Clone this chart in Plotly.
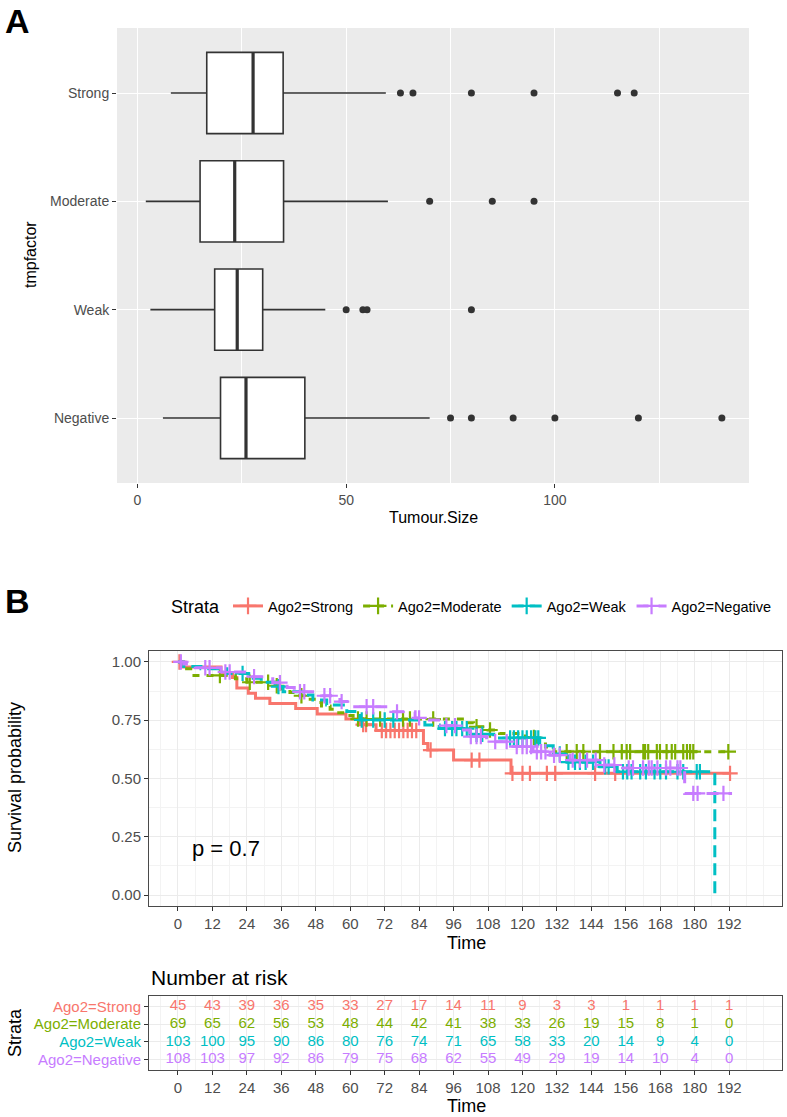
import numpy as np
import plotly.graph_objects as go

# ---------------- Panel A data (box plot of Tumour.Size by tmpfactor) ----------------
box_groups = ["Negative", "Weak", "Moderate", "Strong"]
box_lower = [6.1, 3.1, 2.0, 8.0]
box_q1 = [19.9, 18.5, 15.0, 16.6]
box_median = [26.0, 23.9, 23.3, 27.7]
box_q3 = [40.1, 30.0, 35.0, 34.9]
box_upper = [70.0, 45.0, 60.0, 59.5]
out_negative = [75, 80, 90, 100, 120, 140]
out_weak = [50, 54, 55, 80]
out_moderate = [70, 85, 95]
out_strong = [63, 66, 80, 95, 115, 119]
a_ticks = [0, 50, 100]

# ---------------- Panel B data (Kaplan-Meier curves) ----------------
strata_names = ["Ago2=Strong", "Ago2=Moderate", "Ago2=Weak", "Ago2=Negative"]

strong_time = [0, 1.5, 15, 19, 20.5, 24.5, 27, 32, 41, 48.5, 58.5, 63.5, 69, 85.5, 87, 96, 116, 192]
strong_surv = [1.0, 0.978, 0.955, 0.933, 0.888, 0.866, 0.844, 0.822, 0.800, 0.777, 0.755, 0.731, 0.706,
               0.650, 0.622, 0.579, 0.522, 0.522]
strong_cens = [0.5, 64.5, 65.5, 71, 72.5, 74, 75.5, 77, 78.5, 80, 81.5, 83, 88, 102.3, 105, 116.5, 120,
               122.6, 128.5, 131.4, 145.3, 152.3, 192.3]

mod_time = [0, 3, 5, 20, 24, 34, 35.5, 39, 41, 44, 48, 50, 53, 56, 58.5, 61, 100, 103, 108, 112, 121,
            125, 128, 131, 192]
mod_surv = [1.0, 0.971, 0.942, 0.928, 0.913, 0.898, 0.884, 0.869, 0.855, 0.840, 0.826, 0.811, 0.797,
            0.782, 0.770, 0.755, 0.739, 0.722, 0.708, 0.693, 0.676, 0.655, 0.635, 0.615, 0.615]
mod_cens = [14.6, 25, 31.4, 34.4, 43, 62.7, 65.7, 70.4, 78.4, 80.8, 88.9, 104, 108.7, 124, 135.4, 138.9,
            141.2, 147, 151.7, 154.6, 156.3, 157.5, 162.1, 162.7, 163.8, 166.8, 167.9, 170.2, 172, 173.2,
            176, 177.3, 178.4, 179.5, 191.7]

weak_time = [0, 2, 8, 17, 24.5, 29, 33.8, 36.6, 43.6, 47, 51.8, 58.8, 63.4, 86, 91, 101.7, 110, 126,
             130.7, 135.5, 147, 153, 187]
weak_surv = [1.0, 0.980, 0.971, 0.951, 0.930, 0.913, 0.894, 0.872, 0.858, 0.837, 0.815, 0.787, 0.751,
             0.730, 0.714, 0.690, 0.674, 0.640, 0.605, 0.570, 0.550, 0.529, 0.0]
weak_cens = [22.5, 35, 64, 68, 72, 75, 93, 95.5, 97, 99, 100.6, 104, 106, 115.7, 117, 118.5, 120, 121.5,
             123, 124.5, 125.5, 133, 136, 138.3, 140, 142, 144.6, 148.8, 150, 155, 156.5, 158, 161, 163,
             166, 168, 170, 174, 176, 180.7, 181.8]

neg_time = [0, 2, 6, 15, 24, 33, 38, 40.5, 50, 56.4, 61, 73.9, 82.6, 86, 91.3, 98, 101.7, 107.5, 116.7,
            123.7, 129.6, 136.6, 146, 153, 176.5, 193]
neg_surv = [1.0, 0.991, 0.975, 0.957, 0.937, 0.911, 0.890, 0.872, 0.855, 0.830, 0.808, 0.786, 0.760,
            0.751, 0.727, 0.708, 0.680, 0.658, 0.637, 0.615, 0.600, 0.579, 0.558, 0.545, 0.436, 0.436]
neg_cens = [1, 9.5, 11, 16.5, 18, 26.5, 35.5, 42.5, 44, 51, 53, 57, 65.7, 68, 76.3, 84, 93.5, 96.5, 102,
            104, 105.5, 110.5, 114.5, 118, 120, 121.5, 123, 125, 126.5, 128, 131, 133, 137.5, 140, 142.5,
            145.5, 148.5, 152, 157, 158.5, 162, 164, 165, 167, 170, 171.5, 174, 175, 179.5, 181, 190]

p_value_text = "p = 0.7"

# ---------------- Risk table ----------------
risk_times = [0, 12, 24, 36, 48, 60, 72, 84, 96, 108, 120, 132, 144, 156, 168, 180, 192]
risk_strong = [45, 43, 39, 36, 35, 33, 27, 17, 14, 11, 9, 3, 3, 1, 1, 1, 1]
risk_moderate = [69, 65, 62, 56, 53, 48, 44, 42, 41, 38, 33, 26, 19, 15, 8, 1, 0]
risk_weak = [103, 100, 95, 90, 86, 80, 76, 74, 71, 65, 58, 33, 20, 14, 9, 4, 0]
risk_negative = [108, 103, 97, 92, 86, 79, 75, 68, 62, 55, 49, 29, 19, 14, 10, 4, 0]

# ---------------- Styles ----------------
COLORS = ["#F8766D", "#7CAE00", "#00BFC4", "#C77CFF"]
DASHES = ["solid", "7px,7px", "12px,6px", "12px,10px"]
FONT = "Liberation Sans, Arial, sans-serif"
W, H = 787, 1117
INK = "#333333"
TICKTXT = "#4D4D4D"


def px_x(p):
    return p / W


def px_y(p):
    return 1 - p / H


fig = go.Figure()

# ---------------- Panel A traces ----------------
pos = list(range(len(box_groups)))
fig.add_trace(go.Box(
    y=pos, q1=box_q1, median=box_median, q3=box_q3,
    lowerfence=box_lower, upperfence=box_upper,
    orientation="h", width=0.75, whiskerwidth=0,
    fillcolor="white", line=dict(color=INK, width=1.6),
    boxpoints=False, showlegend=False, hoverinfo="skip",
    xaxis="x", yaxis="y"))

# thicker median lines (ggplot style)
mx, my = [], []
for p, m in zip(pos, box_median):
    mx += [m, m, None]
    my += [p - 0.375, p + 0.375, None]
fig.add_trace(go.Scatter(x=mx, y=my, mode="lines", line=dict(color=INK, width=3.2),
                         showlegend=False, hoverinfo="skip", xaxis="x", yaxis="y"))

outs = [out_negative, out_weak, out_moderate, out_strong]
ox, oy = [], []
for p, o in zip(pos, outs):
    ox += o
    oy += [p] * len(o)
fig.add_trace(go.Scatter(x=ox, y=oy, mode="markers",
                         marker=dict(color=INK, size=7), showlegend=False,
                         hoverinfo="skip", xaxis="x", yaxis="y"))

# ---------------- Panel B traces ----------------
series = [
    (strong_time, strong_surv, strong_cens),
    (mod_time, mod_surv, mod_cens),
    (weak_time, weak_surv, weak_cens),
    (neg_time, neg_surv, neg_cens),
]

for i, (t, s, c) in enumerate(series):
    fig.add_trace(go.Scatter(
        x=t, y=s, mode="lines", line=dict(color=COLORS[i], width=3, dash=DASHES[i], shape="hv"),
        showlegend=False, hoverinfo="skip", xaxis="x2", yaxis="y2"))
    ta = np.array(t)
    sa = np.array(s)
    idx = np.searchsorted(ta, np.array(c), side="right") - 1
    idx = np.clip(idx, 0, len(sa) - 1)
    cy = sa[idx]
    cy = np.where(cy == 0, sa[np.maximum(idx - 1, 0)], cy)
    fig.add_trace(go.Scatter(
        x=c, y=cy.tolist(), mode="markers",
        marker=dict(symbol="cross-thin", size=11, line=dict(color=COLORS[i], width=2.2)),
        showlegend=False, hoverinfo="skip", xaxis="x2", yaxis="y2"))

# legend entries
for i, name in enumerate(strata_names):
    fig.add_trace(go.Scatter(
        x=[None], y=[None], mode="lines+markers", name=name,
        line=dict(color=COLORS[i], width=3, dash=DASHES[i]),
        marker=dict(symbol="cross-thin", size=12, line=dict(color=COLORS[i], width=2.2)),
        xaxis="x2", yaxis="y2"))

# ---------------- Risk table traces ----------------
risks = [risk_strong, risk_moderate, risk_weak, risk_negative]
row_pos = [3, 2, 1, 0]
for i, r in enumerate(risks):
    fig.add_trace(go.Scatter(
        x=risk_times, y=[row_pos[i]] * len(risk_times), mode="text",
        text=[str(v) for v in r], textposition="middle center",
        textfont=dict(color=COLORS[i], size=15, family=FONT),
        showlegend=False, hoverinfo="skip", xaxis="x3", yaxis="y3"))

# ---------------- Layout ----------------
km_dom_x = [px_x(149), px_x(781.7)]
xr_b = [-10.1, 210.3]

common_tick = dict(ticks="outside", ticklen=4, tickwidth=1, tickcolor=INK, automargin=False,
                   tickfont=dict(size=15, color=TICKTXT, family=FONT), zeroline=False)

fig.update_layout(
    width=W, height=H, margin=dict(l=0, r=0, t=0, b=0, autoexpand=False),
    paper_bgcolor="white", plot_bgcolor="rgba(0,0,0,0)",
    font=dict(family=FONT, color="black"),
    xaxis=dict(domain=[px_x(117), px_x(749)], anchor="y", range=[-4.9, 146.5], automargin=False,
               tickvals=a_ticks, showgrid=True, gridcolor="white", gridwidth=1.3,
               minor=dict(tickvals=[25, 75, 125], showgrid=True, gridcolor="white", gridwidth=0.6,
                          ticks=""),
               ticks="outside", ticklen=4, tickcolor=INK,
               tickfont=dict(size=14, color=TICKTXT, family=FONT), zeroline=False, showline=False),
    yaxis=dict(domain=[px_y(483), px_y(28)], anchor="x", range=[-0.6, 3.6], automargin=False,
               tickvals=pos, ticktext=box_groups, showgrid=True, gridcolor="white", gridwidth=1.3,
               ticks="outside", ticklen=4, tickcolor=INK,
               tickfont=dict(size=14, color=TICKTXT, family=FONT), zeroline=False, showline=False),
    xaxis2=dict(domain=km_dom_x, anchor="y2", range=xr_b, tickvals=risk_times,
                showgrid=True, gridcolor="#EBEBEB", gridwidth=1.1,
                minor=dict(dtick=6, tick0=0, showgrid=True, gridcolor="#F3F3F3", gridwidth=0.8, ticks=""),
                showline=True, mirror=True, linecolor="#4a4a4a", linewidth=1, **common_tick),
    yaxis2=dict(domain=[px_y(906), px_y(651)], anchor="x2", range=[-0.047, 1.047],
                tickvals=[0, 0.25, 0.5, 0.75, 1.0], tickformat=".2f",
                showgrid=True, gridcolor="#EBEBEB", gridwidth=1.1,
                minor=dict(dtick=0.125, tick0=0, showgrid=True, gridcolor="#F3F3F3", gridwidth=0.8, ticks=""),
                showline=True, mirror=True, linecolor="#4a4a4a", linewidth=1, **common_tick),
    xaxis3=dict(domain=km_dom_x, anchor="y3", range=xr_b, tickvals=risk_times,
                showgrid=True, gridcolor="#EBEBEB", gridwidth=1.1,
                minor=dict(dtick=6, tick0=0, showgrid=True, gridcolor="#F3F3F3", gridwidth=0.8, ticks=""),
                showline=True, mirror=True, linecolor="#4a4a4a", linewidth=1, **common_tick),
    yaxis3=dict(domain=[px_y(1070), px_y(996)], anchor="x3", range=[-0.6, 3.6],
                tickvals=row_pos,
                ticktext=[f"<span style='color:{COLORS[i]}'>{n}</span>" for i, n in enumerate(strata_names)],
                showgrid=True, gridcolor="#EBEBEB", gridwidth=1.1,
                showline=True, mirror=True, linecolor="#4a4a4a", linewidth=1, **common_tick),
    legend=dict(orientation="h", x=px_x(169), xanchor="left", y=px_y(607), yanchor="middle",
                title=dict(text="Strata", font=dict(size=18, family=FONT), side="left"),
                font=dict(size=14.5, family=FONT, color="black"), bgcolor="rgba(0,0,0,0)",
                itemwidth=30, tracegroupgap=0),
    shapes=[dict(type="rect", xref="x domain", yref="y domain", x0=0, x1=1, y0=0, y1=1,
                 fillcolor="#EBEBEB", line=dict(width=0), layer="below")],
)

ann = [
    dict(text="<b>A</b>", x=px_x(3), y=px_y(21), xanchor="left", yanchor="middle", font=dict(size=34)),
    dict(text="<b>B</b>", x=px_x(3), y=px_y(601), xanchor="left", yanchor="middle", font=dict(size=34)),
    dict(text="tmpfactor", x=px_x(30), y=px_y(255), textangle=-90, font=dict(size=16)),
    dict(text="Tumour.Size", x=px_x(433), y=px_y(517), font=dict(size=16)),
    dict(text="Survival probability", x=px_x(15), y=px_y(778), textangle=-90, font=dict(size=18)),
    dict(text="Time", x=px_x(466), y=px_y(943), font=dict(size=18)),
    dict(text="Number at risk", x=px_x(149), y=px_y(977), xanchor="left", font=dict(size=21)),
    dict(text="Strata", x=px_x(15), y=px_y(1033), textangle=-90, font=dict(size=18)),
    dict(text="Time", x=px_x(466), y=px_y(1106), font=dict(size=18)),
]
for a in ann:
    a.setdefault("xref", "paper")
    a.setdefault("yref", "paper")
    a.setdefault("showarrow", False)
    a.setdefault("xanchor", "center")
    a.setdefault("yanchor", "middle")
    a["font"].setdefault("family", FONT)
    a["font"].setdefault("color", "black")
    fig.add_annotation(**a)

fig.add_annotation(text=p_value_text, x=4.2, y=0.2, xref="x2", yref="y2", showarrow=False,
                   xanchor="left", yanchor="middle", font=dict(size=22, family=FONT, color="black"))

# remove the browser's default page margin so the figure sits at the window's top-left corner
fig.write_html("out.html", config={"displayModeBar": False},
               post_script="document.body.style.margin='0';document.body.style.overflow='hidden';")
